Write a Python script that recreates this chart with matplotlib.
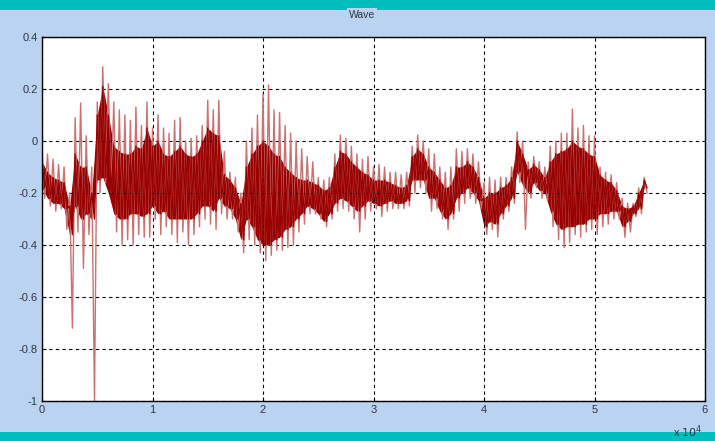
import matplotlib
matplotlib.use("Agg")
import matplotlib.pyplot as plt
import numpy as np

# Envelope of the wave in bins of 500 samples
bin_size = 500
outer_hi = [-0.03, -0.05, -0.07, -0.09, -0.10, -0.20, 0.09, 0.146, 0.02, -0.10,
            0.15, 0.285, 0.22, 0.15, 0.12, 0.10, 0.08, 0.13, 0.06, 0.15,
            0.05, 0.10, 0.05, 0.03, 0.08, 0.09, 0.00, 0.01, 0.02, 0.06,
            0.157, 0.12, 0.157, -0.04, -0.12, -0.14, -0.20, 0.00, 0.05, 0.10,
            0.18, 0.215, 0.12, 0.11, 0.06, 0.03, 0.00, -0.03, -0.06, -0.08,
            -0.14, -0.15, -0.14, -0.05, 0.023, 0.01, -0.02, -0.05, -0.07, -0.06,
            -0.10, -0.09, -0.10, -0.12, -0.12, -0.13, -0.12, -0.02, 0.023, 0.00,
            -0.03, -0.05, -0.10, -0.12, -0.10, -0.03, -0.04, -0.03, -0.05, -0.08,
            -0.16, -0.14, -0.15, -0.14, -0.14, -0.10, 0.035, 0.00, -0.08, -0.06,
            -0.08, -0.10, -0.02, 0.00, 0.03, 0.03, 0.123, 0.05, 0.06, 0.02,
            0.02, -0.10, -0.12, -0.13, -0.16, -0.22, -0.24, -0.24, -0.18, -0.14]
outer_lo = [-0.22, -0.25, -0.27, -0.26, -0.34, -0.72, -0.35, -0.49, -0.36, -1.00,
            -0.20, -0.16, -0.20, -0.35, -0.40, -0.38, -0.40, -0.36, -0.37, -0.37,
            -0.30, -0.36, -0.33, -0.36, -0.39, -0.35, -0.40, -0.36, -0.33, -0.30,
            -0.32, -0.34, -0.28, -0.30, -0.30, -0.35, -0.43, -0.38, -0.40, -0.43,
            -0.46, -0.44, -0.42, -0.42, -0.41, -0.40, -0.35, -0.32, -0.28, -0.28,
            -0.30, -0.33, -0.30, -0.27, -0.26, -0.27, -0.30, -0.35, -0.30, -0.27,
            -0.26, -0.29, -0.27, -0.26, -0.26, -0.26, -0.25, -0.20, -0.18, -0.20,
            -0.27, -0.26, -0.30, -0.34, -0.30, -0.27, -0.24, -0.22, -0.24, -0.26,
            -0.36, -0.34, -0.37, -0.30, -0.27, -0.24, -0.16, -0.34, -0.22, -0.18,
            -0.22, -0.23, -0.33, -0.38, -0.41, -0.39, -0.36, -0.37, -0.35, -0.34,
            -0.36, -0.33, -0.32, -0.30, -0.30, -0.37, -0.35, -0.29, -0.28, -0.20]
core_hi = [-0.08, -0.12, -0.14, -0.15, -0.16, -0.25, -0.05, -0.10, -0.10, -0.20,
           0.10, 0.21, 0.10, -0.02, -0.04, -0.05, -0.05, -0.02, -0.03, 0.05,
           -0.02, 0.00, -0.05, -0.06, -0.04, -0.02, -0.05, -0.06, -0.05, 0.00,
           0.05, 0.03, 0.02, -0.13, -0.15, -0.18, -0.24, -0.10, -0.05, -0.02,
           0.00, -0.02, -0.05, -0.06, -0.10, -0.12, -0.14, -0.15, -0.15, -0.16,
           -0.17, -0.19, -0.18, -0.10, -0.04, -0.05, -0.08, -0.10, -0.12, -0.13,
           -0.15, -0.15, -0.15, -0.16, -0.17, -0.18, -0.17, -0.06, -0.03, -0.05,
           -0.10, -0.12, -0.15, -0.18, -0.17, -0.10, -0.10, -0.08, -0.10, -0.14,
           -0.22, -0.20, -0.20, -0.18, -0.17, -0.14, 0.00, -0.05, -0.11, -0.09,
           -0.11, -0.14, -0.08, -0.05, -0.04, -0.03, 0.00, -0.02, -0.03, -0.05,
           -0.06, -0.13, -0.15, -0.16, -0.19, -0.25, -0.26, -0.25, -0.20, -0.15]
core_lo = [-0.18, -0.22, -0.24, -0.24, -0.26, -0.36, -0.25, -0.30, -0.28, -0.30,
           -0.15, -0.14, -0.20, -0.28, -0.30, -0.30, -0.28, -0.28, -0.29, -0.28,
           -0.25, -0.28, -0.27, -0.30, -0.30, -0.30, -0.30, -0.30, -0.28, -0.25,
           -0.25, -0.27, -0.22, -0.25, -0.26, -0.30, -0.38, -0.30, -0.33, -0.38,
           -0.40, -0.40, -0.38, -0.37, -0.34, -0.33, -0.30, -0.28, -0.25, -0.26,
           -0.28, -0.31, -0.28, -0.24, -0.22, -0.23, -0.25, -0.27, -0.25, -0.23,
           -0.24, -0.25, -0.24, -0.23, -0.24, -0.24, -0.23, -0.15, -0.15, -0.15,
           -0.22, -0.22, -0.27, -0.30, -0.28, -0.22, -0.20, -0.18, -0.20, -0.23,
           -0.33, -0.31, -0.32, -0.28, -0.25, -0.22, -0.12, -0.17, -0.20, -0.16,
           -0.19, -0.20, -0.27, -0.32, -0.34, -0.33, -0.33, -0.32, -0.32, -0.30,
           -0.30, -0.28, -0.28, -0.27, -0.27, -0.33, -0.31, -0.28, -0.26, -0.18]

x_ticks = [0, 1e4, 2e4, 3e4, 4e4, 5e4, 6e4]
x_labels = ["0", "1", "2", "3", "4", "5", "6"]
y_ticks = [-1, -0.8, -0.6, -0.4, -0.2, 0, 0.2, 0.4]
y_labels = ["-1", "-0.8", "-0.6", "-0.4", "-0.2", "0", "0.2", "0.4"]

panel_bg = "#BAD3F0"
teal = "#00BEBE"
wave_col = "#990000"
light_col = "#CC7070"
text_col = "#333344"

plt.rcParams["font.family"] = ["Liberation Sans", "DejaVu Sans"]

fig = plt.figure(figsize=(7.15, 4.41), dpi=100)
fig.patch.set_facecolor(panel_bg)

# teal bars at top and bottom of the panel
fig.add_artist(plt.Rectangle((0, 1 - 10 / 441), 1, 10 / 441, transform=fig.transFigure,
                             color=teal, lw=0))
fig.add_artist(plt.Rectangle((0, 0), 1, 9 / 441, transform=fig.transFigure,
                             color=teal, lw=0))
fig.text(362 / 715, 1 - 15 / 441, "Wave", ha="center", va="center", fontsize=7.5,
         color=text_col, bbox=dict(boxstyle="square,pad=0.2", fc=panel_bg, ec="none"))

ax = fig.add_axes([42 / 715, 40 / 441, 663 / 715, 364 / 441])
ax.set_facecolor("white")

# wave drawn as an oscillation between the envelope values of each bin
x = np.arange(len(outer_hi)) * bin_size
zx = np.column_stack([x, x + bin_size / 2]).ravel()
outer_z = np.column_stack([outer_hi, outer_lo]).ravel()
core_z = np.column_stack([core_hi, core_lo]).ravel()

ax.plot(zx, outer_z, color=light_col, lw=1.0)
ax.fill_between(x, core_lo, core_hi, color=wave_col, lw=0)
ax.plot(zx, core_z, color=wave_col, lw=1.0)

ax.set_xlim(0, 6e4)
ax.set_ylim(-1, 0.4)
ax.set_xticks(x_ticks)
ax.set_xticklabels(x_labels)
ax.set_yticks(y_ticks)
ax.set_yticklabels(y_labels)
ax.tick_params(direction="in", length=3, labelsize=8, labelcolor=text_col, pad=3)
ax.grid(True, color="black", linestyle=(0, (3, 3)), lw=0.8)
for s in ax.spines.values():
    s.set_color("black")
    s.set_linewidth(1)

fig.text(688 / 715, 9 / 441, r"x $10^4$", ha="center", va="center", fontsize=8,
         color=text_col)

fig.savefig("out.png", dpi=100, facecolor=fig.get_facecolor())
